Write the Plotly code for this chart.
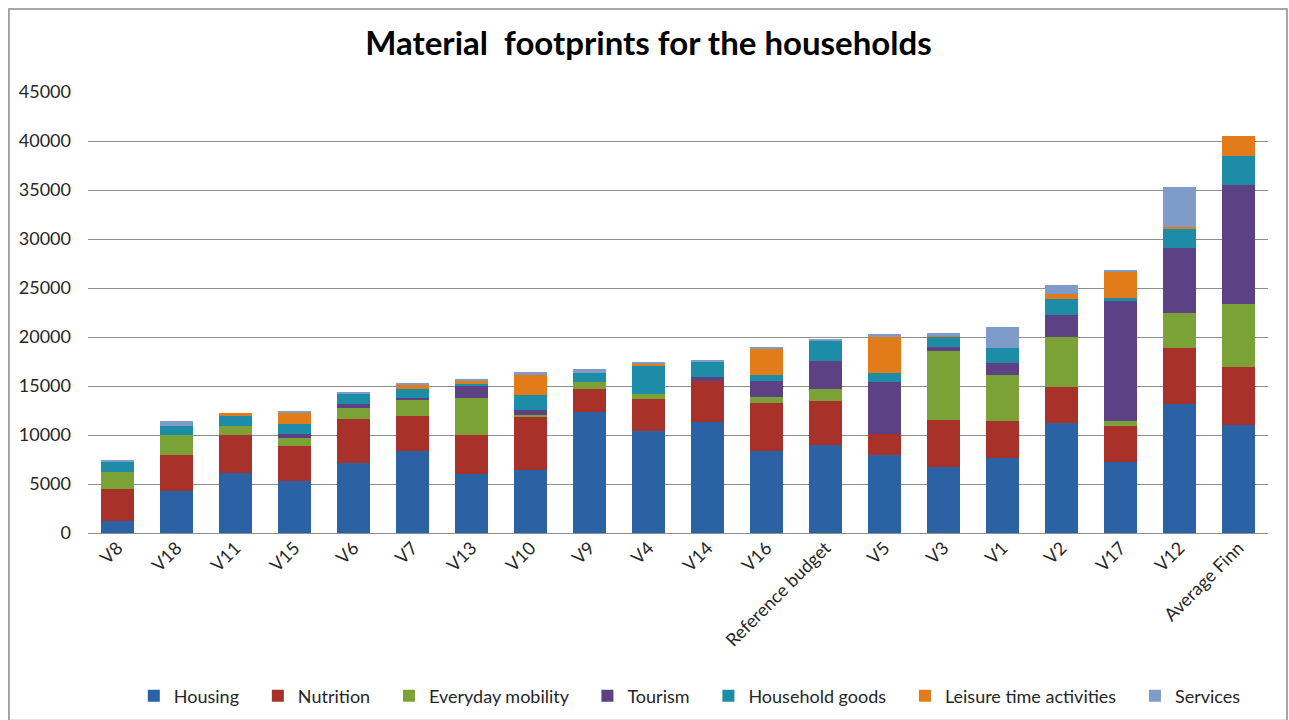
import plotly.graph_objects as go

# Households, ordered by total material footprint
households = ["V8", "V18", "V11", "V15", "V6", "V7", "V13", "V10", "V9", "V4",
              "V14", "V16", "Reference budget", "V5", "V3", "V1", "V2", "V17",
              "V12", "Average Finn"]

housing = [1200, 4250, 6100, 5300, 7150, 8350, 6050, 6400, 12300, 10450,
           11350, 8330, 8950, 7950, 6700, 7700, 11200, 7200, 13200, 11000]
nutrition = [3300, 3680, 3870, 3600, 4450, 3600, 3950, 5500, 2400, 3200,
             4180, 4960, 4550, 2180, 4860, 3760, 3660, 3670, 5700, 5900]
mobility = [1750, 2040, 950, 750, 1160, 1600, 3770, 150, 710, 580,
            0, 580, 1150, 0, 7040, 4620, 5130, 610, 3600, 6460]
tourism = [0, 0, 0, 440, 440, 230, 1330, 530, 0, 0,
           340, 1600, 2920, 5300, 340, 1260, 2210, 12240, 6600, 12140]
household_goods = [1000, 980, 1020, 1050, 1020, 890, 200, 1530, 880, 2900,
                   1670, 650, 2070, 850, 1090, 1570, 1670, 270, 2000, 3020]
leisure = [0, 0, 340, 1160, 0, 440, 200, 1970, 0, 140,
           0, 2720, 0, 3780, 170, 0, 480, 2720, 100, 1940]
services = [130, 480, 0, 50, 80, 200, 240, 300, 480, 136,
            130, 170, 140, 200, 170, 2140, 990, 60, 4150, 0]

series = [
    ("Housing", housing, "#2a62a4"),
    ("Nutrition", nutrition, "#a8312a"),
    ("Everyday mobility", mobility, "#7aa236"),
    ("Tourism", tourism, "#5c4284"),
    ("Household goods", household_goods, "#1d8ca6"),
    ("Leisure time activities", leisure, "#e27b1a"),
    ("Services", services, "#7f9cc9"),
]

font_family = "Lato, 'Open Sans', sans-serif"
legend_pad = "\u00a0" * 3  # extra room between legend entries

fig = go.Figure()
for i, (name, values, color) in enumerate(series):
    label = name if i == len(series) - 1 else name + legend_pad
    fig.add_trace(go.Bar(
        name=label, x=households, y=values,
        marker=dict(color=color, line=dict(width=0)),
        hovertemplate=name + ": %{y}<extra></extra>",
    ))

fig.update_layout(
    barmode="stack",
    bargap=0.44,
    width=1289, height=720,
    margin=dict(l=88, r=21, t=92, b=187, autoexpand=False),
    paper_bgcolor="white",
    plot_bgcolor="white",
    font=dict(family=font_family, size=18, color="#262626"),
    title=dict(
        text="<b>Material\u00a0 footprints for the households</b>",
        x=648.5 / 1289, xanchor="center", xref="container",
        y=1 - 43 / 720, yref="container", yanchor="middle",
        font=dict(size=33, color="black", family=font_family),
    ),
    xaxis=dict(
        tickangle=-45,
        showgrid=False,
        showline=False,
        ticks="",
        tickfont=dict(size=18),
    ),
    yaxis=dict(
        range=[0, 45000],
        dtick=5000,
        tickformat="d",
        showgrid=True,
        gridcolor="#8e8e8e",
        gridwidth=1,
        zeroline=True,
        zerolinecolor="#8e8e8e",
        zerolinewidth=1,
        showline=False,
        ticks="",
        ticklabelstandoff=16,
        tickfont=dict(size=18),
    ),
    legend=dict(
        orientation="h",
        x=0.51, xanchor="center",
        y=-0.37, yanchor="middle",
        font=dict(size=18),
        traceorder="normal",
        itemwidth=30,
    ),
    shapes=[dict(
        type="rect", xref="paper", yref="paper",
        x0=-0.0670, x1=1.0161, y0=-0.425, y1=1.188,
        line=dict(color="#8a8a8a", width=1.5),
        fillcolor="rgba(0,0,0,0)", layer="below",
    )],
)

fig.write_html("out.html")
